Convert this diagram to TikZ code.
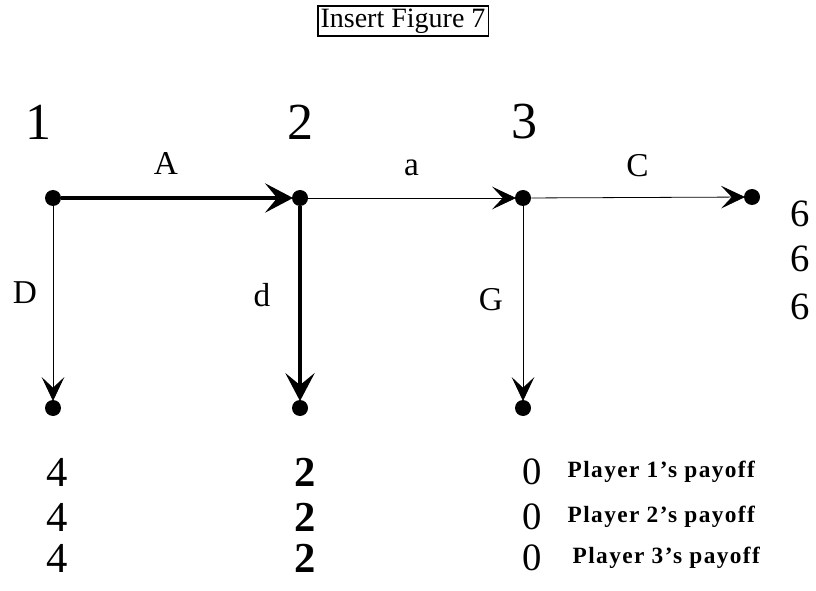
\documentclass[tikz,border=0pt]{standalone}
\usepackage{fontspec}
\setmainfont{Liberation Serif}
\usetikzlibrary{arrows.meta}
\begin{document}
\begin{tikzpicture}[
        x = 0.75pt, y = -0.75pt,
        dot/.style = {circle, fill, inner sep = 0pt, minimum size = 12pt},
        move/.style = {line width = 0.6pt, -{Stealth[length = 18pt, width = 17pt, inset = 8pt]}, shorten > = -1pt},
        heavymove/.style = {line width = 2.3pt, -{Stealth[length = 21pt, width = 22pt, inset = 9pt]}, shorten > = -1pt},
        big/.style = {font = \fontsize{39}{41}\selectfont},
        lab/.style = {font = \fontsize{25}{27}\selectfont},
        pay/.style = {font = \fontsize{29}{31}\selectfont},
        who/.style = {font = \bfseries\fontsize{17.5}{19}\selectfont\addfontfeature{LetterSpace = 6}, anchor = west}]
      \useasboundingbox (0, 0) rectangle (816, 591);
      \node [draw, line width = 0.9pt, inner sep = 2pt, font = \fontsize{21}{23}\selectfont] (title) at (403, 21) {Insert Figure 7};
      % decision nodes and terminal nodes
      \node [dot] (n1) at (53, 198) {};
      \node [dot] (n2) at (300, 198) {};
      \node [dot] (n3) at (523, 198) {};
      \node [dot] (tC) at (752, 197) {};
      \node [dot] (tD) at (53, 408) {};
      \node [dot] (td) at (300, 408) {};
      \node [dot] (tG) at (523, 408) {};
      \node [big] (p1) at (39, 122) {1};
      \node [big] (p2) at (300, 122) {2};
      \node [big] (p3) at (524, 122) {3};
      % moves
      \draw [heavymove] (n1) -- (n2) node [midway, above = 13pt, lab, xshift = -8pt] {A};
      \draw [move] (n2) -- (n3) node [midway, above = 13pt, lab] {a};
      \draw [move] (n3) -- (tC) node [midway, above = 12pt, lab] {C};
      \draw [move] (n1) -- (tD);
      \draw [heavymove] (n2) -- (td);
      \draw [move] (n3) -- (tG);
      \node [lab] (lD) at (25, 293) {D};
      \node [lab] (ld) at (262, 295) {d};
      \node [lab] (lG) at (491, 300) {G};
      % payoffs
      \node [pay] at (800, 214) {6};
      \node [pay] at (800, 259) {6};
      \node [pay] at (800, 307) {6};
      \foreach \y/\k/\dx in {472/1/0, 517/2/0, 558/3/5} {
        \node [pay, font = \fontsize{32}{34}\selectfont] at (57, \y) {4};
        \node [pay, font = \bfseries\fontsize{32}{34}\selectfont] at (305, \y) {2};
        \node [pay] at (532, \y) {0};
        \node [who] at (563 + \dx, \y) {Player \k's payoff};
      }
    \end{tikzpicture}
\end{document}
